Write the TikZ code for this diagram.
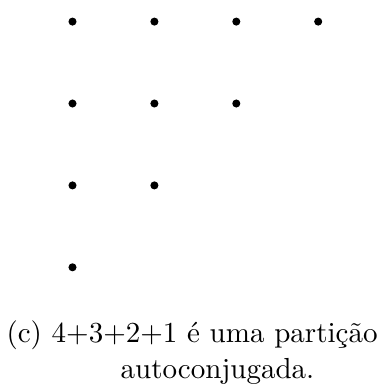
\documentclass[tikz,border=0pt]{standalone}
\begin{document}
\begin{tikzpicture}[x=0.372pt,y=-0.372pt,
  dot/.style={circle,fill=black,inner sep=0pt,minimum size=3pt},
  captext/.style={inner sep=0pt,font=\fontsize{10.8}{13}\selectfont}]
\useasboundingbox (0,0) rectangle (385,383);
\foreach \r/\n in {0/4,1/3,2/2,3/1}{
  \foreach \c in {1,...,\n}{
    \node[dot] (d\r\c) at ({72.5+81.9*(\c-1)},{21.6+81.9*\r}) {};
  }
}
\node[captext,anchor=base west] (l1) at (6,342) {(c) 4+3+2+1 é uma partição};
\node[captext,anchor=base] (l2) at (217.5,378) {autoconjugada.};
\end{tikzpicture}
\end{document}
